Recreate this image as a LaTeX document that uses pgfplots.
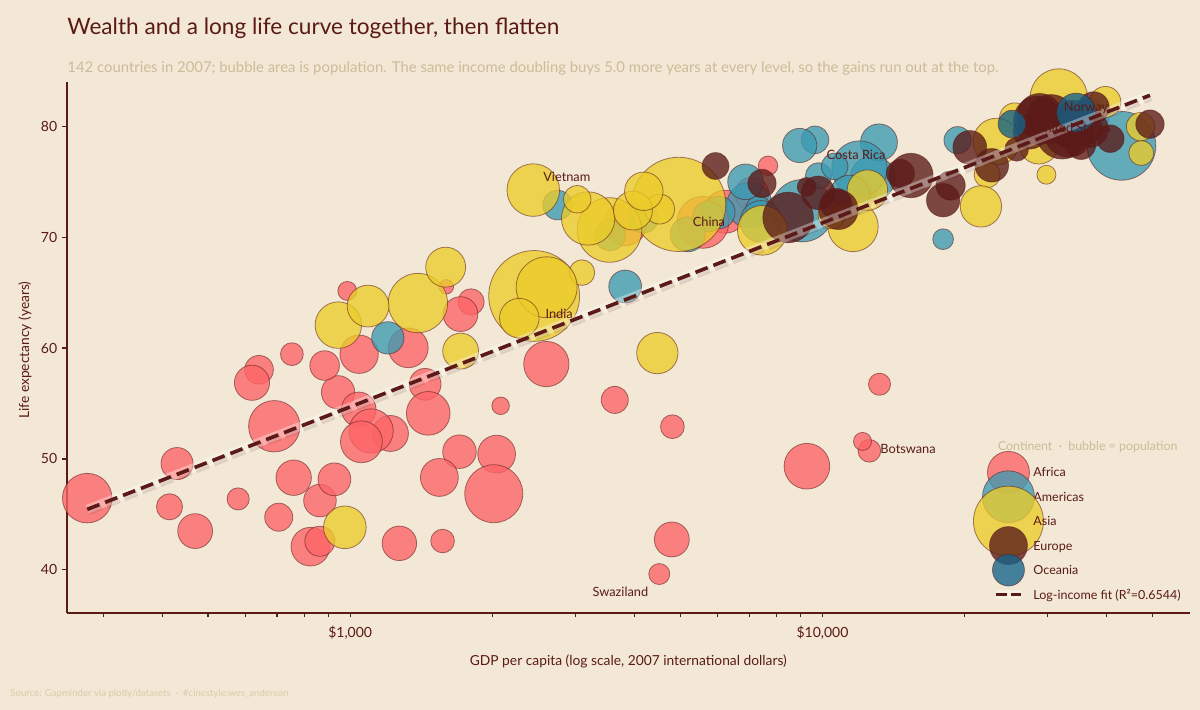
\documentclass[border=0pt]{standalone}
\usepackage{fontspec}
\setmainfont{Lato}
\usepackage{pgfplots}
\pgfplotsset{compat=1.18}
\usepackage{pgfplotstable}
\definecolor{bg}{HTML}{F2E8D5}
\definecolor{maroon}{HTML}{5B1A18}
\definecolor{tanc}{HTML}{CDBB9A}
\definecolor{srcc}{HTML}{DCCBAA}
\definecolor{afr}{HTML}{FD6467}
\definecolor{ame}{HTML}{3B9AB2}
\definecolor{asi}{HTML}{EBCC2A}
\definecolor{eur}{HTML}{5B1A18}
\definecolor{oce}{HTML}{14638A}

% gdpPercap  lifeExp  pop (millions)
\pgfplotstableread{
x y pop
6223.37 72.301 33.33
4797.23 42.731 12.42
1441.28 56.728 8.08
12569.85 50.728 1.64
1217.03 52.295 14.33
430.07 49.580 8.39
2042.10 50.430 17.70
706.02 44.741 4.37
1704.06 50.651 10.24
986.15 65.152 0.71
277.55 46.462 64.61
3632.56 55.322 3.80
1544.75 48.328 18.01
2082.48 54.791 0.50
5581.18 71.338 80.26
12154.09 51.579 0.55
641.37 58.040 4.91
690.81 52.947 76.51
13206.48 56.735 1.45
752.75 59.448 1.69
1327.61 60.022 22.87
942.65 56.007 9.95
579.23 46.388 1.47
1463.25 54.110 35.61
1569.33 42.592 2.01
414.51 45.678 3.19
12057.50 73.952 6.04
1044.77 59.443 19.17
759.35 48.303 13.33
1042.58 54.467 12.03
1803.15 64.164 3.27
10956.99 72.801 1.25
3820.18 71.164 33.76
823.69 42.082 19.95
4811.06 52.906 2.06
619.68 56.867 12.89
2013.98 46.859 135.03
7670.12 76.442 0.80
863.09 46.242 8.86
1598.44 65.528 0.20
1712.47 63.062 12.27
862.54 42.568 6.14
926.14 48.159 9.12
9269.66 49.339 44.00
2602.39 58.556 42.29
4513.48 39.613 1.13
1107.48 52.517 38.14
882.97 58.420 5.70
7092.92 73.923 10.28
1056.38 51.542 29.17
1271.21 42.384 11.75
469.71 43.487 12.31
}\africa

\pgfplotstableread{
x y pop
12779.38 75.320 40.30
3822.14 65.554 9.12
9065.80 72.390 190.01
36319.24 80.653 33.39
13171.64 78.553 16.28
7006.58 72.889 44.23
9645.06 78.782 4.13
8948.10 78.273 11.42
6025.37 72.235 9.32
6873.26 74.994 13.76
5728.35 71.878 6.94
5186.05 70.259 12.57
1201.64 60.916 8.50
3548.33 70.198 7.48
7320.88 72.567 2.78
11977.57 76.195 108.70
2749.32 72.899 5.68
9809.19 75.537 3.24
4172.84 71.752 6.67
7408.91 71.421 28.67
19328.71 78.746 3.94
18008.51 69.819 1.06
42951.65 78.242 301.14
10611.46 76.384 3.45
11415.81 73.747 26.08
}\americas

\pgfplotstableread{
x y pop
974.58 43.828 31.89
29796.05 75.635 0.71
1391.25 64.062 150.45
1713.78 59.723 14.13
4959.11 72.961 1318.68
39724.98 82.208 6.98
2452.21 64.698 1110.40
3540.65 70.650 223.55
11605.71 70.964 69.45
4471.06 59.545 27.50
25523.28 80.745 6.43
31656.07 82.603 127.47
4519.46 72.535 6.05
1593.07 67.297 23.30
23348.14 78.623 49.04
47306.99 77.588 2.51
10461.06 71.993 3.92
12451.66 74.241 24.82
3095.77 66.803 2.87
944.00 62.069 47.76
1091.36 63.785 28.90
22316.19 75.640 3.20
2605.95 65.483 169.27
3190.48 71.688 91.08
21654.83 72.777 27.60
47143.18 79.972 4.55
3970.10 72.396 20.38
4184.55 74.143 19.31
28718.28 78.400 23.17
7458.40 70.616 65.07
2441.58 74.249 85.26
3025.35 73.422 4.02
2280.77 62.698 22.21
}\asia

\pgfplotstableread{
x y pop
5937.03 76.423 3.60
36126.49 79.829 8.20
33692.61 79.441 10.39
7446.30 74.852 4.55
10680.79 73.005 7.32
14619.22 75.748 4.49
22833.31 76.486 10.23
35278.42 78.332 5.47
33207.08 79.313 5.24
30470.02 80.657 61.08
32170.37 79.406 82.40
27538.41 79.483 10.71
18008.94 73.338 9.96
36180.79 81.757 0.30
40676.00 78.885 4.11
28569.72 80.546 58.15
9253.90 74.543 0.68
36797.93 79.762 16.57
49357.19 80.196 4.63
15389.92 75.563 38.52
20509.65 78.098 10.64
10808.48 72.476 22.28
9786.53 74.002 10.15
18678.31 74.663 5.45
25768.26 77.926 2.01
28821.06 80.941 40.45
33859.75 80.884 9.03
37506.42 81.701 7.55
8458.28 71.777 71.16
33203.26 79.425 60.78
}\europe

\pgfplotstableread{
x y pop
34435.37 81.235 20.43
25185.01 80.204 4.12
}\oceania

% log-income fit: +5.0 years per doubling (R^2 = 0.6544)
\pgfplotstableread{
x y
277.55 45.45
49357 82.80
}\fit

\pgfplotsset{
  bub/.style 2 args={scatter, only marks, mark=*,
    visualization depends on={\thisrow{pop}\as\pop},
    scatter/@pre marker code/.code={\scope[mark size={14.5*(\pop/135)^0.213}]},
    scatter/@post marker code/.code={\endscope},
    mark options={fill=#1, fill opacity=0.78, draw=maroon, draw opacity=0.55, line width=0.4pt},
    legend image code/.code={\path[draw=none, fill=none] (0pt,-6.1pt) rectangle (13.5pt,6.1pt);
      \draw[overlay, solid, fill=#1, fill opacity=0.78, draw=maroon, draw opacity=0.55, line width=0.4pt] (6.25pt,0pt) circle (#2);}},
}
\tikzset{lab/.style={text=maroon, font=\fontsize{6.4}{7}\selectfont, inner sep=0pt}}

\begin{document}
\begin{tikzpicture}
\path[use as bounding box, fill=bg] (-33.3pt,-48.5pt) rectangle (566.7pt,306.5pt);
\begin{axis}[
  at={(0,0)}, anchor=south west, scale only axis,
  width=561.7pt, height=265.5pt,
  xmode=log, xmin=251, xmax=60000, ymin=36.1, ymax=84.0,
  axis x line*=bottom, axis y line*=left,
  axis line style={draw=maroon, line width=1pt, -},
  xtick={1000,10000}, xticklabels={{\$1,000},{\$10,000}},
  minor xtick={300,400,500,600,700,800,900,2000,3000,4000,5000,6000,7000,8000,9000,20000,30000,40000,50000},
  ytick={40,50,60,70,80},
  tick style={draw=maroon, line width=0.6pt},
  tick align=outside, major tick length=2.2pt, minor tick length=2.2pt,
  ticklabel style={font=\fontsize{7}{8}\selectfont, text=maroon},
  xticklabel style={yshift=-1pt},
  yticklabel style={xshift=1pt},
  /pgf/number format/assume math mode=true,
  xlabel={GDP per capita (log scale, 2007 international dollars)},
  ylabel={Life expectancy (years)},
  label style={font=\fontsize{6.9}{8}\selectfont, text=maroon},
  xlabel style={at={(axis description cs:0.5,-0.0904)}, anchor=center},
  ylabel style={at={(axis description cs:-0.037,0.495)}, anchor=center},
  legend cell align=left,
  legend style={at={(0.8229,0.2885)}, anchor=north west, draw=none, fill=none,
    inner sep=0pt, inner xsep=0pt, inner ysep=0pt, row sep=0pt,
    font=\fontsize{6.25}{7}\selectfont, text=maroon,
    nodes={inner sep=0pt, text depth=0pt},
    /tikz/every odd column/.append style={column sep=4pt}},
]
\addplot[bub={afr}{10.5pt}] table[x=x,y=y] {\africa};
\addlegendentry{Africa}
\addplot[bub={ame}{13pt}] table[x=x,y=y] {\americas};
\addlegendentry{Americas}
\addplot[bub={asi}{17.5pt}] table[x=x,y=y] {\asia};
\addlegendentry{Asia}
\addplot[bub={eur}{9.5pt}] table[x=x,y=y] {\europe};
\addlegendentry{Europe}
\addplot[bub={oce}{8pt}] table[x=x,y=y] {\oceania};
\addlegendentry{Oceania}
\addlegendimage{legend image code/.code={\path[draw=none, fill=none] (0pt,-6.1pt) rectangle (13.5pt,6.1pt);
    \draw[white, opacity=0.35, line width=4.5pt] (0pt,0pt)--(12.5pt,0pt);
    \draw[maroon, line width=1.8pt, dash pattern=on 5.5pt off 2pt] (0pt,0pt)--(12.5pt,0pt);}}
\addlegendentry{Log-income fit (R²=0.6544)}

\coordinate (vn) at (axis cs:2876,75.41);
\coordinate (cn) at (axis cs:5750,71.37);
\coordinate (in) at (axis cs:2770,63.10);
\coordinate (cr) at (axis cs:11780,77.39);
\coordinate (us) at (axis cs:33930,79.83);
\coordinate (no) at (axis cs:36160,81.61);
\coordinate (bw) at (axis cs:15180,50.86);
\coordinate (sz) at (axis cs:3734,37.98);
\end{axis}
% overlay axis so the fit line sits above the bubbles
\begin{axis}[
  at={(0,0)}, anchor=south west, scale only axis,
  width=561.7pt, height=265.5pt,
  xmode=log, xmin=251, xmax=60000, ymin=36.1, ymax=84.0,
  hide axis]
\addplot[no markers, draw=white, draw opacity=0.35, line width=4.5pt] table[x=x,y=y] {\fit};
\addplot[no markers, draw=maroon, draw opacity=0.13, line width=3.4pt,
  dash pattern=on 7pt off 2.6pt, yshift=-1.2pt, xshift=0.6pt] table[x=x,y=y] {\fit};
\addplot[no markers, draw=maroon, line width=1.8pt, dash pattern=on 6.5pt off 3.1pt] table[x=x,y=y] {\fit};
\end{axis}
\node[lab] at (vn) {Vietnam};
\node[lab] at (cn) {China};
\node[lab] at (in) {India};
\node[lab] at (cr) {Costa Rica};
\node[lab] at (us) {United States};
\node[lab] at (no) {Norway};
\node[lab] at (bw) {Botswana};
\node[lab] at (sz) {Swaziland};
\node[anchor=base west, inner sep=0pt, text=maroon, font=\fontsize{11.3}{13}\selectfont] at (0.2pt,289.2pt) {Wealth and a long life curve together, then flatten};
\node[anchor=base west, inner sep=0pt, text=tanc, font=\fontsize{7.44}{8.5}\selectfont] at (0.2pt,270.3pt) {142 countries in 2007; bubble area is population. The same income doubling buys 5.0 more years at every level, so the gains run out at the top.};
\node[anchor=west, inner sep=0pt, text=tanc, font=\fontsize{6.2}{7}\selectfont] at (465.5pt,82.85pt) {Continent \ · \ bubble = population};
\node[anchor=base west, inner sep=0pt, text=srcc, font=\fontsize{4.8}{6}\selectfont] at (-28.3pt,-42pt) {Source: Gapminder via plotly/datasets \ · \ \#cinestyle:wes\_anderson};
\end{tikzpicture}
\end{document}
